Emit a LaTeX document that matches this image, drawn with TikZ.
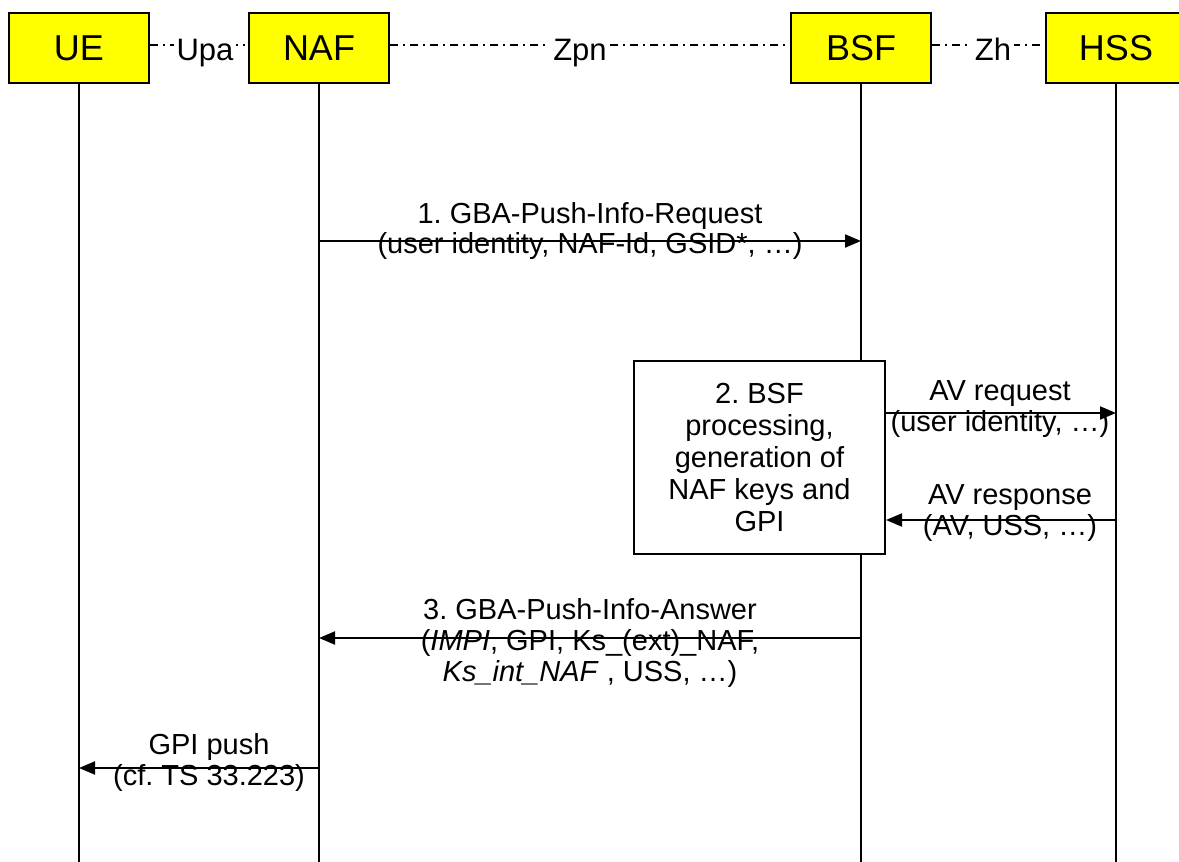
\documentclass[tikz,border=0pt]{standalone}
\usepackage{fontspec}
\setmainfont{Liberation Sans}
\usetikzlibrary{arrows.meta}
\definecolor{hdryellow}{RGB}{255,255,0}
\frenchspacing
\begin{document}
\begin{tikzpicture}[x=1pt,y=-1pt,
  entity/.style={draw,line width=2pt,fill=hdryellow,minimum width=140pt,minimum height=70pt,inner sep=0pt,font=\fontsize{36}{40}\selectfont},
  life/.style={line width=2pt},
  msg/.style={line width=2pt,-{Triangle[length=16pt,width=13pt]}},
  lbl/.style={align=center,inner sep=0pt,font=\frenchspacing\fontsize{29}{31}\selectfont},
  iface/.style={line width=1.4pt,dash pattern=on 8pt off 5pt on 2pt off 5pt},
  ilbl/.style={fill=white,inner sep=3pt,anchor=base,font=\fontsize{31}{33}\selectfont},
  procbox/.style={draw,line width=2pt,fill=white,minimum width=251pt,minimum height=193pt,inner sep=0pt,align=center,font=\frenchspacing\fontsize{29}{32}\selectfont}]
\useasboundingbox (0,0) rectangle (1179,862);
\clip (0,0) rectangle (1179,862);
% entities
\node[entity] (UE)  at (79,48)   {UE};
\node[entity] (NAF) at (319,48)  {NAF};
\node[entity] (BSF) at (861,48)  {BSF};
\node[entity] (HSS) at (1116,48) {HSS};
% lifeline ends
\coordinate (UEb)  at (UE.south |- 0,862);
\coordinate (NAFb) at (NAF.south |- 0,862);
\coordinate (BSFb) at (BSF.south |- 0,862);
\coordinate (HSSb) at (HSS.south |- 0,862);
\draw[life] (UE.south)  -- (UEb);
\draw[life] (NAF.south) -- (NAFb);
\draw[life] (BSF.south) -- (BSFb);
\draw[life] (HSS.south) -- (HSSb);
% interfaces
\draw[iface] (UE.east |- 0,45) -- (NAF.west |- 0,45);
\draw[iface] (NAF.east |- 0,45) -- (BSF.west |- 0,45);
\draw[iface] (BSF.east |- 0,45) -- (HSS.west |- 0,45);
\node[ilbl] (upa) at (205,60) {Upa};
\node[ilbl] (zpn) at (580,60) {Zpn};
\node[ilbl] (zh)  at (993,60) {Zh};
% processing box
\node[procbox] (proc) at (759.5,457.5) {2. BSF\\processing,\\generation of\\NAF keys and\\GPI};
% message points
\coordinate (m1s) at (NAF.south |- 0,241);
\coordinate (m1e) at (BSF.south |- 0,241);
\coordinate (m2s) at (proc.east |- 0,413);
\coordinate (m2e) at (HSS.south |- 0,413);
\coordinate (m3s) at (HSS.south |- 0,520);
\coordinate (m3e) at (proc.east |- 0,520);
\coordinate (m4s) at (BSF.south |- 0,638);
\coordinate (m4e) at (NAF.south |- 0,638);
\coordinate (m5s) at (NAF.south |- 0,768);
\coordinate (m5e) at (UE.south |- 0,768);
% labels
\node[lbl] (l1) at (590,231) {1. GBA-Push-Info-Request\\(user identity, NAF-Id, GSID*, …)};
\node[lbl] (l2) at (1000,409) {AV request\\(user identity, …)};
\node[lbl] (l3) at (1010,513) {AV response\\(AV, USS, …)};
\node[lbl] (l4) at (590,643) {3. GBA-Push-Info-Answer\\(\textit{IMPI}, GPI, Ks\_(ext)\_NAF,\\\textit{Ks\_int\_NAF} , USS, …)};
\node[lbl] (l5) at (209,762) {GPI push\\(cf. TS 33.223)};
% messages
\draw[msg] (m1s) -- (m1e);
\draw[msg] (m2s) -- (m2e);
\draw[msg] (m3s) -- (m3e);
\draw[msg] (m4s) -- (m4e);
\draw[msg] (m5s) -- (m5e);
\end{tikzpicture}
\end{document}
